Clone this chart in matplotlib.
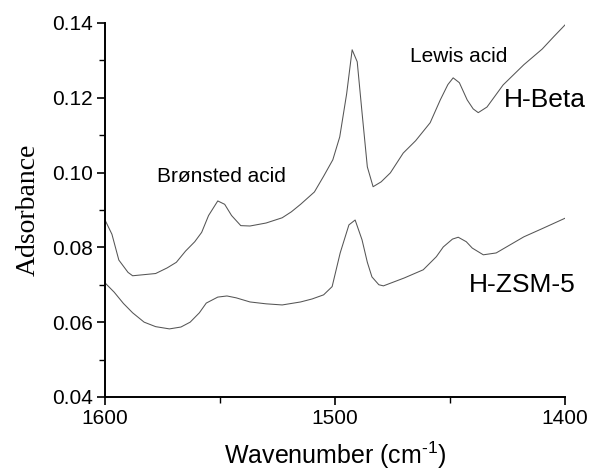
import matplotlib
matplotlib.use('Agg')
import matplotlib.pyplot as plt
from matplotlib.ticker import MultipleLocator, FixedLocator

plt.rcParams['font.family'] = ['Liberation Sans', 'DejaVu Sans']
plt.rcParams['mathtext.fontset'] = 'custom'
plt.rcParams['mathtext.rm'] = 'Liberation Sans'

# H-Beta spectrum (wavenumber, absorbance)
beta_wn = [1600, 1597, 1594, 1590, 1588, 1583, 1578, 1573, 1569, 1565, 1561, 1558,
           1555, 1551, 1548, 1545, 1541, 1537, 1530, 1523, 1519, 1515, 1509, 1505,
           1501, 1498, 1495, 1492.6, 1490.4, 1488.3, 1486, 1483.5, 1480, 1476,
           1470.4, 1465, 1458.7, 1454.3, 1451, 1448.7, 1446, 1442.6, 1440, 1437.8,
           1434, 1427, 1418, 1410, 1405, 1400]
beta_abs = [0.0873, 0.0835, 0.0766, 0.0733, 0.0724, 0.0727, 0.0730, 0.0745, 0.0760,
            0.0790, 0.0815, 0.0840, 0.0885, 0.0924, 0.0915, 0.0885, 0.0858, 0.0857,
            0.0865, 0.0879, 0.0895, 0.0915, 0.0948, 0.0990, 0.1034, 0.1095, 0.1210,
            0.1328, 0.1296, 0.1160, 0.1015, 0.0962, 0.0975, 0.0999, 0.1052, 0.1085,
            0.1133, 0.1194, 0.1235, 0.1253, 0.1240, 0.1194, 0.1170, 0.1160, 0.1175,
            0.1234, 0.1288, 0.1330, 0.1363, 0.1395]

# H-ZSM-5 spectrum
zsm_wn = [1600, 1596, 1592, 1588, 1583, 1578, 1572, 1567, 1563, 1559, 1556, 1551,
          1547, 1543, 1537, 1530, 1523, 1515, 1510, 1505, 1501.3, 1497.8, 1494,
          1491.3, 1488.3, 1486, 1484, 1481, 1479, 1470, 1461.7, 1456, 1453, 1449,
          1446.5, 1443, 1440.4, 1435.6, 1430, 1418, 1410, 1400]
zsm_abs = [0.0705, 0.0680, 0.0650, 0.0625, 0.0600, 0.0588, 0.0582, 0.0587, 0.0600,
           0.0625, 0.0651, 0.0667, 0.0670, 0.0665, 0.0654, 0.0649, 0.0646, 0.0654,
           0.0662, 0.0673, 0.0695, 0.0785, 0.0860, 0.0873, 0.0820, 0.0760, 0.0721,
           0.0700, 0.0697, 0.0718, 0.0740, 0.0775, 0.0801, 0.0822, 0.0827, 0.0815,
           0.0798, 0.0780, 0.0785, 0.0828, 0.0850, 0.0878]

fig = plt.figure(figsize=(5.9, 4.76), dpi=100)
ax = fig.add_axes([0.178, 0.166, 0.78, 0.786])

ax.plot(beta_wn, beta_abs, color='#555555', lw=0.75)
ax.plot(zsm_wn, zsm_abs, color='#555555', lw=0.75)

ax.set_xlim(1600, 1400)
ax.set_ylim(0.04, 0.14)

ax.spines['top'].set_visible(False)
ax.spines['right'].set_visible(False)
ax.spines['left'].set_linewidth(1.4)
ax.spines['bottom'].set_linewidth(1.4)

ax.xaxis.set_major_locator(FixedLocator([1600, 1500, 1400]))
ax.xaxis.set_minor_locator(FixedLocator([1550, 1450]))
ax.yaxis.set_major_locator(MultipleLocator(0.02))
ax.yaxis.set_minor_locator(MultipleLocator(0.01))
ax.yaxis.set_major_formatter(matplotlib.ticker.FormatStrFormatter('%.2f'))
ax.tick_params(which='major', direction='out', length=6, width=1.2, labelsize=15, pad=3)
ax.tick_params(which='minor', direction='out', length=4, width=1.0)

ax.set_xlabel('Wavenumber (cm$^{\\mathrm{\u2010}1}$)', fontsize=18, labelpad=8)
ax.set_ylabel('Adsorbance', fontsize=20, family='Liberation Serif', labelpad=8)

ax.text(1549.6, 0.0988, 'Brønsted acid', fontsize=15, ha='center', va='center')
ax.text(1446.5, 0.1309, 'Lewis acid', fontsize=15, ha='center', va='center')
ax.text(1408.7, 0.1194, 'H-Beta', fontsize=19, ha='center', va='center', clip_on=False)
ax.text(1418.7, 0.0700, 'H-ZSM-5', fontsize=19, ha='center', va='center', clip_on=False)

plt.savefig('out.png', dpi=100)
